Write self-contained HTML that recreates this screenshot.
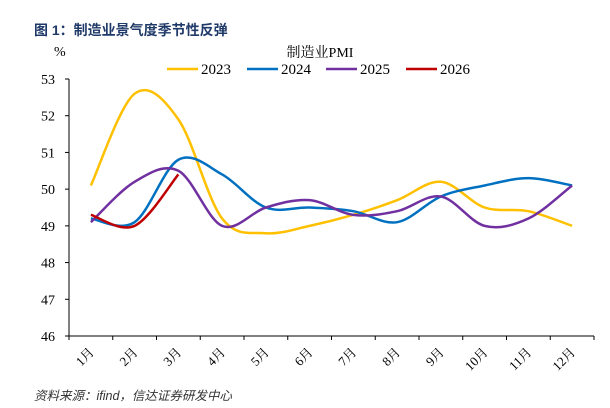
<!DOCTYPE html>
<html><head><meta charset="utf-8"><style>
html,body{margin:0;padding:0;background:#fff;}
svg{display:block;font-family:"Liberation Serif","Noto Serif CJK SC",serif;}
</style></head><body>
<svg id="chart" width="610" height="408" viewBox="0 0 610 408">
<text x="34" y="35" font-family="Liberation Sans, Noto Sans CJK SC, sans-serif" font-weight="bold" font-size="14" fill="#1f3a68">图 1：制造业景气度季节性反弹</text>
<text x="54" y="56" font-size="14" fill="#000">%</text>
<text x="320" y="57" text-anchor="middle" font-size="14" fill="#000">制造业PMI</text>
<g id="legend"></g>
<g id="axes"></g>
<g id="series"></g>
<text x="34" y="400" font-family="Liberation Sans, Noto Sans CJK SC, sans-serif" font-style="italic" font-size="12.5" fill="#333">资料来源：ifind，信达证券研发中心</text>
</svg>
<script>
const categories=["1月","2月","3月","4月","5月","6月","7月","8月","9月","10月","11月","12月"];
const yTicks=[46,47,48,49,50,51,52,53];
const seriesNames=["2023","2024","2025","2026"];
const s2023=[50.1,52.6,51.9,49.2,48.8,49.0,49.3,49.7,50.2,49.5,49.4,49.0];
const s2024=[49.2,49.1,50.8,50.4,49.5,49.5,49.4,49.1,49.8,50.1,50.3,50.1];
const s2025=[49.1,50.2,50.5,49.0,49.5,49.7,49.3,49.4,49.8,49.0,49.2,50.1];
const s2026=[49.3,49.0,50.4];
const colors=["#ffc000","#0070c0","#7030a0","#c00000"];
const NS="http://www.w3.org/2000/svg";
const X0=69,X1=594,Y0=336,Y1=79,YMIN=46,YMAX=53;
const band=(X1-X0)/categories.length;
function xs(i){return X0+band*(i+0.5);}
function ys(v){return Y0-(v-YMIN)/(YMAX-YMIN)*(Y0-Y1);}
function mk(tag,attrs,parent){const e=document.createElementNS(NS,tag);for(const k in attrs)e.setAttribute(k,attrs[k]);parent.appendChild(e);return e;}
const axes=document.getElementById('axes');
let yl=mk('line',{x1:X0,y1:Y1,x2:X0,y2:Y0,stroke:'#000','stroke-width':1},axes);


let xl=mk('line',{x1:X0,y1:Y0,x2:X1,y2:Y0,stroke:'#000','stroke-width':1},axes);


yTicks.forEach(t=>{
 const y=ys(t);
 let tk=mk('line',{x1:X0-4,y1:y,x2:X0,y2:y,stroke:'#000'},axes);
 
 
 let tx=mk('text',{x:X0-14,y:y+5,'text-anchor':'end','font-size':14},axes);
 tx.textContent=t;
 
 
});
for(let i=0;i<=categories.length;i++){
 const x=X0+band*i;
 let tk=mk('line',{x1:x,y1:Y0,x2:x,y2:Y0+4,stroke:'#000'},axes);
 
 
}
categories.forEach((c,i)=>{
 const x=xs(i)+4,y=Y0+17;
 let tx=mk('text',{x:x,y:y,'text-anchor':'end','font-size':13,transform:`rotate(-45 ${x} ${y})`},axes);
 tx.textContent=c;
 
 
});
function smooth(vals){
 const p=vals.map((v,i)=>[xs(i),ys(v)]);
 let d=`M${p[0][0]},${p[0][1]}`;
 for(let i=0;i<p.length-1;i++){
  const p0=p[i-1]||p[i],p1=p[i],p2=p[i+1],p3=p[i+2]||p2;
  const c1=[p1[0]+(p2[0]-p0[0])/6,p1[1]+(p2[1]-p0[1])/6];
  const c2=[p2[0]-(p3[0]-p1[0])/6,p2[1]-(p3[1]-p1[1])/6];
  d+=` C${c1[0]},${c1[1]} ${c2[0]},${c2[1]} ${p2[0]},${p2[1]}`;
 }
 return d;
}
const sg=document.getElementById('series');
[s2023,s2024,s2025,s2026].forEach((s,k)=>{
 let p=mk('path',{d:smooth(s),fill:'none',stroke:colors[k],'stroke-width':2.5},sg);
 
 
});
const lg=document.getElementById('legend');
const lx=[167,247,326,406];
seriesNames.forEach((n,k)=>{
 let l=mk('line',{x1:lx[k],y1:69,x2:lx[k]+31,y2:69,stroke:colors[k],'stroke-width':2.5},lg);
 
 
 let t=mk('text',{x:lx[k]+34,y:74,'font-size':15},lg);
 t.textContent=n;
 
 
});
</script>
</body></html>
